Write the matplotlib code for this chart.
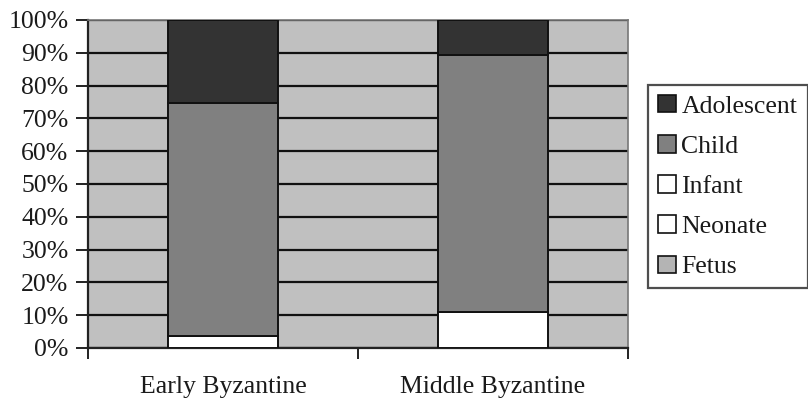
import matplotlib
matplotlib.use("Agg")
import matplotlib.pyplot as plt
from matplotlib.patches import Patch
import numpy as np

# Age-group composition of subadult burials by period (percent)
periods = ["Early Byzantine", "Middle Byzantine"]
fetus = [0.0, 0.0]
neonate = [0.0, 0.0]
infant = [3.7, 11.1]
child = [71.0, 78.2]
adolescent = [25.3, 10.7]

series = [
    ("Fetus", fetus, "#b4b4b4"),
    ("Neonate", neonate, "#ffffff"),
    ("Infant", infant, "#ffffff"),
    ("Child", child, "#808080"),
    ("Adolescent", adolescent, "#333333"),
]
yticks = [0, 10, 20, 30, 40, 50, 60, 70, 80, 90, 100]

plt.rcParams["font.family"] = ["Liberation Serif", "DejaVu Serif"]
FS = 18.5

W, H = 808, 404
fig = plt.figure(figsize=(W / 100, H / 100), dpi=100)
ax = fig.add_axes([88 / W, (H - 348) / H, 540 / W, 328 / H])
ax.set_facecolor("#c0c0c0")

x = np.arange(len(periods))
bottom = np.zeros(len(periods))
for name, vals, color in series:
    v = np.array(vals)
    ax.bar(x, v, width=0.41, bottom=bottom, color=color,
           edgecolor="#111111", linewidth=1.4, zorder=3)
    bottom += v

ax.set_xlim(-0.5, 1.5)
ax.set_ylim(0, 100)
ax.set_yticks(yticks)
ax.set_yticklabels([f"{t}%" for t in yticks], fontsize=FS, color="#1a1a1a")
ax.yaxis.grid(True, color="#111111", linewidth=1.6, zorder=1)
ax.set_axisbelow(True)

ax.set_xticks(x)
ax.set_xticklabels(periods, fontsize=FS, color="#1a1a1a")
ax.tick_params(axis="x", which="major", length=0, pad=20)
ax.set_xticks([-0.5, 0.5, 1.5], minor=True)
ax.tick_params(axis="x", which="minor", length=8, width=1.4, color="#222222")
ax.tick_params(axis="y", length=9, width=1.4, color="#222222", pad=5)

for side in ["top", "right"]:
    ax.spines[side].set_color("#777777")
    ax.spines[side].set_linewidth(1.2)
for side in ["left", "bottom"]:
    ax.spines[side].set_color("#222222")
    ax.spines[side].set_linewidth(1.6)

handles = [Patch(facecolor=c, edgecolor="#111111", linewidth=1.2, label=n)
           for n, _, c in reversed(series)]
leg = fig.legend(handles=handles, loc="upper left",
                 bbox_to_anchor=(648 / W, 1 - 85 / H),
                 fontsize=FS, frameon=True, fancybox=False,
                 borderaxespad=0, borderpad=0.4, labelspacing=0.68,
                 handlelength=0.7, handleheight=0.65, handletextpad=0.2)
leg.get_frame().set_edgecolor("#222222")
leg.get_frame().set_linewidth(1.6)
for t in leg.get_texts():
    t.set_color("#1a1a1a")

fig.savefig("out.png", dpi=100)
